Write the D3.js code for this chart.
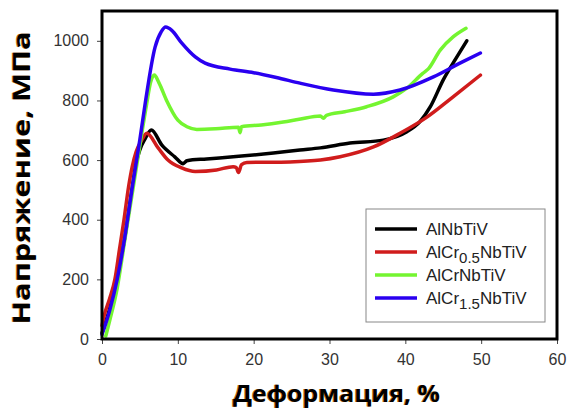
<!DOCTYPE html>
<html><head><meta charset="utf-8">
<script src="https://cdn.jsdelivr.net/npm/d3@7"></script>
<style>body{margin:0;background:#fff;} svg{display:block;}</style>
</head><body>
<svg id="c" width="567" height="410"></svg>
<script>
const xTicks = [0, 10, 20, 30, 40, 50, 60];
const yTicks = [0, 200, 400, 600, 800, 1000];

const blackX = [0, 1, 2, 3, 4, 4.5, 5.0, 5.7, 6.5, 7.9, 9.6, 10.7, 11.2, 13.8, 17.3, 22.6, 26.1, 28.8, 32.7, 37.1, 40.2, 41.9, 43.3, 45.0, 46.8, 48.1];
const blackY = [20, 100, 200, 340, 510, 590, 635, 672, 701, 650, 611, 588, 598, 604, 611, 624, 634, 641, 657, 667, 695, 728, 779, 869, 946, 1000];

const redX = [0, 0.3, 1.0, 1.7, 2.3, 2.9, 3.5, 4.0, 4.5, 5.2, 5.9, 7.4, 8.7, 10.5, 12.3, 15.1, 17.3, 17.7, 18.0, 18.4, 19.1, 24.8, 28.8, 31.4, 35.8, 39.3, 42.9, 46.3, 49.9];
const redY = [45, 80, 135, 200, 300, 400, 510, 580, 628, 665, 690, 641, 600, 574, 562, 567, 578, 575, 558, 585, 592, 594, 600, 611, 644, 690, 745, 812, 885];

const greenX = [0.5, 1.0, 2.0, 3.0, 4.0, 5.0, 5.9, 6.4, 6.9, 7.5, 8.5, 10.0, 11.2, 12.5, 15, 18.0, 18.2, 18.4, 21, 23.9, 26, 28.8, 29.2, 29.6, 32, 34.9, 38.4, 40.2, 42.3, 43.0, 44.6, 46.3, 48.0];
const greenY = [10, 60, 170, 330, 490, 650, 790, 860, 885, 860, 801, 734, 712, 703, 705, 710, 692, 712, 718, 728, 737, 748, 740, 750, 762, 779, 812, 841, 891, 905, 969, 1013, 1042];

const blueX = [0, 1.0, 2.0, 3.0, 4.0, 5.0, 5.7, 7.0, 7.8, 8.4, 9.2, 10.5, 12.3, 13.6, 16.9, 20, 23, 26.1, 30.5, 35.8, 39.3, 43.7, 47.2, 49.9];
const blueY = [15, 95, 200, 340, 510, 670, 791, 979, 1030, 1046, 1035, 993, 946, 925, 905, 893, 877, 858, 835, 821, 835, 879, 925, 959];

const seriesNames = [["AlNbTiV", null, ""], ["AlCr", "0.5", "NbTiV"], ["AlCrNbTiV", null, ""], ["AlCr", "1.5", "NbTiV"]];
const seriesColors = ["#000000", "#d01c1c", "#74f530", "#2a00f0"];
const seriesX = [blackX, redX, greenX, blueX];
const seriesY = [blackY, redY, greenY, blueY];

const svg = d3.select("#c");
const L = 102, R = 557, T = 11, B = 339;
const x = d3.scaleLinear().domain([0, 60]).range([L, R]);
const y = d3.scaleLinear().domain([0, 1100]).range([B, T]);

// axes
const xAxis = d3.axisBottom(x).tickValues(xTicks).tickFormat(d3.format("d")).tickSize(5).tickPadding(10);
const gx = svg.append("g").attr("transform", `translate(0,${B})`).call(xAxis);
gx.select(".domain").remove();
gx.selectAll("line").attr("stroke", "#444");
gx.selectAll("text").attr("font-family", "Liberation Sans, Arial, sans-serif").attr("font-size", 16).attr("fill", "#333");

const yAxis = d3.axisLeft(y).tickValues(yTicks).tickFormat(d3.format("d")).tickSize(5).tickPadding(8);
const gy = svg.append("g").attr("transform", `translate(${L},0)`).call(yAxis);
gy.select(".domain").remove();
gy.selectAll("line").attr("stroke", "#444");
gy.selectAll("text").attr("font-family", "Liberation Sans, Arial, sans-serif").attr("font-size", 16).attr("fill", "#333");

// lines
const line = d3.line().x(d => x(d[0])).y(d => y(d[1])).curve(d3.curveMonotoneX);
const drawOrder = [0, 1, 2, 3];
drawOrder.forEach(i => {
  const pts = seriesX[i].map((v, k) => [v, seriesY[i][k]]);
  svg.append("path").datum(pts).attr("d", line)
    .attr("fill", "none").attr("stroke", seriesColors[i])
    .attr("stroke-width", 3.5).attr("stroke-linejoin", "round").attr("stroke-linecap", "round");
});

// frame
svg.append("rect").attr("x", L).attr("y", T).attr("width", R - L).attr("height", B - T)
  .attr("fill", "none").attr("stroke", "#000").attr("stroke-width", 3);

// legend
const lg = svg.append("g");
lg.append("rect").attr("x", 366).attr("y", 209).attr("width", 179).attr("height", 113)
  .attr("fill", "#fff").attr("stroke", "#888").attr("stroke-width", 1);
const rowY = [229, 252, 275, 298];
seriesNames.forEach((n, i) => {
  lg.append("line").attr("x1", 375).attr("x2", 417).attr("y1", rowY[i]).attr("y2", rowY[i])
    .attr("stroke", seriesColors[i]).attr("stroke-width", 3.5);
  const t = lg.append("text").attr("x", 426).attr("y", rowY[i] + 6)
    .attr("font-family", "Liberation Sans, Arial, sans-serif").attr("font-size", 17).attr("fill", "#222");
  t.append("tspan").text(n[0]);
  if (n[1]) {
    t.append("tspan").attr("dy", 5).attr("font-size", 15).text(n[1]);
    t.append("tspan").attr("dy", -5).text(n[2]);
  }
});

// titles
function title(txt, tx, ty, rot, len) {
  [["#c87a20", -1], ["#000", 0]].forEach(([col, off]) => {
    svg.append("text").attr("transform", `translate(${tx + off},${ty}) rotate(${rot})`)
      .attr("text-anchor", "middle")
      .attr("font-family", "Open Sans, DejaVu Sans, sans-serif").attr("font-weight", "bold")
      .attr("font-size", 24).attr("fill", col)
      .attr("textLength", len).attr("lengthAdjust", "spacingAndGlyphs")
      .text(txt);
  });
}
title("Деформация, %", 336.5, 402, 0, 207);
title("Напряжение, МПа", 30, 178, -90, 293);
</script>
</body></html>
